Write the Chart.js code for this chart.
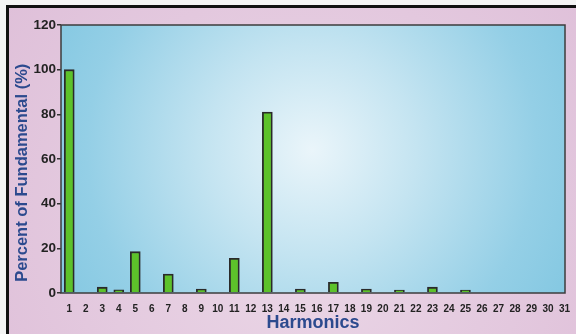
<!DOCTYPE html>
<html>
<head>
<meta charset="utf-8">
<script src="https://cdn.jsdelivr.net/npm/chart.js@4"></script>
<style>
  html, body { margin: 0; padding: 0; background: #fff; }
  #wrap { width: 576px; height: 334px; }
</style>
</head>
<body>
<div id="wrap"><canvas id="chart" width="576" height="334"></canvas></div>
<script>
// harmonic order and amplitude (% of fundamental)
const harmonics = [1, 2, 3, 4, 5, 6, 7, 8, 9, 10, 11, 12, 13, 14, 15, 16,
                   17, 18, 19, 20, 21, 22, 23, 24, 25, 26, 27, 28, 29, 30, 31];
const percent = [100, null, 2.6, 1.4, 18.5, null, 8.5, null, 1.8, null, 15.5, null, 81, null, 1.8, null,
                 4.8, null, 1.8, null, 1.3, null, 2.6, null, 1.3, null, null, null, null, null, null];
const yTicks = [0, 20, 40, 60, 80, 100, 120];

const FONT = '"Liberation Sans", Arial, Helvetica, sans-serif';
const NAVY = '#2c4a8e';

// pink panel, black frame, radial blue plot background
const backdrop = {
  id: 'backdrop',
  beforeDraw(chart) {
    const { ctx, width, height, chartArea: a } = chart;
    ctx.save();
    ctx.fillStyle = '#f4f4f4';
    ctx.fillRect(0, 0, width, height);
    const pg = ctx.createRadialGradient(300, 250, 20, 300, 200, 420);
    pg.addColorStop(0, '#ead6e6');
    pg.addColorStop(1, '#ddbcd7');
    ctx.fillStyle = pg;
    ctx.fillRect(8, 6, width - 8, height - 6);
    ctx.fillStyle = '#111';
    ctx.fillRect(6, 5, 3, height - 5);
    ctx.fillRect(6, 5, width - 6, 3);

    const cx = 312, cy = 150;
    const g = ctx.createRadialGradient(cx, cy, 0, cx, cy, 300);
    g.addColorStop(0, '#eaf5fa');
    g.addColorStop(0.35, '#c4e4f1');
    g.addColorStop(0.75, '#94cfe6');
    g.addColorStop(1, '#82c7e1');
    ctx.fillStyle = g;
    ctx.fillRect(a.left, a.top, a.right - a.left, a.bottom - a.top);
    ctx.restore();
  },
  afterDatasetsDraw(chart) {
    const { ctx, chartArea: a } = chart;
    ctx.save();
    ctx.strokeStyle = '#3c3c3c';
    ctx.lineWidth = 1.5;
    ctx.strokeRect(a.left, a.top, a.right - a.left, a.bottom - a.top);
    ctx.restore();
  }
};

new Chart(document.getElementById('chart').getContext('2d'), {
  type: 'bar',
  data: {
    datasets: [{
      data: harmonics.map((h, i) => ({ x: h, y: percent[i] })),
      backgroundColor: '#5dc22a',
      borderColor: '#2a2a2a',
      borderWidth: 1.8,
      borderSkipped: 'bottom',
      barThickness: 10,
    }]
  },
  options: {
    responsive: false,
    animation: false,
    layout: { padding: { left: 10, top: 25, right: 11, bottom: 0 } },
    plugins: { legend: { display: false }, tooltip: { enabled: false } },
    scales: {
      x: {
        type: 'linear',
        offset: false,
        min: 0.5,
        max: 31.03,
        afterFit(scale) { scale.height = 41; },
        afterBuildTicks(scale) { scale.ticks = harmonics.map(v => ({ value: v })); },
        grid: { display: false, offset: false },
        border: { display: false },
        ticks: {
          color: '#222', padding: 2, maxRotation: 0, autoSkip: false,
          font: { family: FONT, size: 10, weight: 'bold' },
        },
        title: {
          display: true, text: 'Harmonics', color: NAVY, padding: { top: 2, bottom: 0 },
          font: { family: FONT, size: 18, weight: 'bold' },
        },
      },
      y: {
        min: 0,
        max: 120,
        afterFit(scale) { scale.width = 51; },
        afterBuildTicks(scale) { scale.ticks = yTicks.map(v => ({ value: v })); },
        grid: { drawOnChartArea: false, tickLength: 4, color: '#333', lineWidth: 1.5 },
        border: { display: false },
        ticks: {
          color: '#222', padding: 1,
          font: { family: FONT, size: 13.5, weight: 'bold' },
        },
        title: {
          display: true, text: 'Percent of Fundamental (%)      ', color: NAVY, padding: { top: 3, bottom: 0 },
          font: { family: FONT, size: 16.5, weight: 'bold' },
        },
      },
    },
  },
  plugins: [backdrop],
});
</script>
</body>
</html>
